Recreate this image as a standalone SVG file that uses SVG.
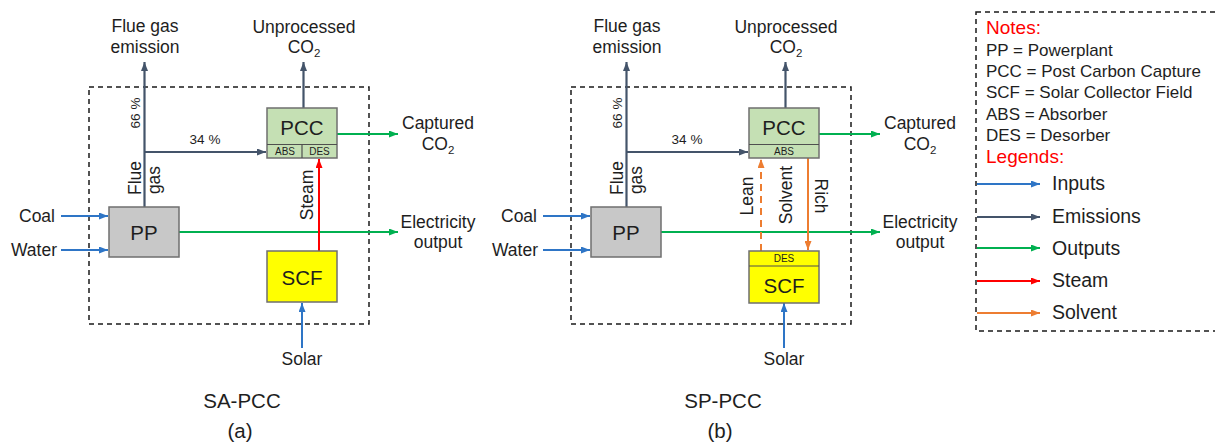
<svg xmlns="http://www.w3.org/2000/svg" width="1215" height="443" viewBox="0 0 1215 443">
<style>
text{font-family:"Liberation Sans",Arial,sans-serif;fill:#1e1e1e}
.lbl{font-size:17.5px;text-anchor:middle}
.r{text-anchor:end}
.sm{font-size:13.5px;text-anchor:middle}
.box{font-size:20.5px;text-anchor:middle}
.tiny{font-size:10px;text-anchor:middle}
.note{font-size:17px}
.hd{font-size:19px;fill:#ff0000}
.leg{font-size:19.5px}
.cap{font-size:20.5px;text-anchor:middle}
.dash{fill:none;stroke:#1a1a1a;stroke-width:1.5;stroke-dasharray:5,4}
.in{stroke:#2e75c6;stroke-width:2;fill:none;marker-end:url(#aIn)}
.emA{stroke:#44546a;stroke-width:2.2;fill:none;marker-end:url(#aEm)}
.out{stroke:#00b050;stroke-width:2;fill:none;marker-end:url(#aOut)}
.st{stroke:#ff0000;stroke-width:2;fill:none;marker-end:url(#aSt)}
.so{stroke:#ed7d31;stroke-width:2;fill:none;marker-end:url(#aSo)}
.soD{stroke:#ed7d31;stroke-width:2;fill:none;stroke-dasharray:7,5;marker-end:url(#aSo)}
.pcc{fill:#c5e0b4;stroke:#6f6f6f;stroke-width:1.5}
.pp{fill:#c8c8c8;stroke:#6f6f6f;stroke-width:1.5}
.scf{fill:#ffff00;stroke:#6f6f6f;stroke-width:1.5}
.div{stroke:#4f4f4f;stroke-width:1.2}
</style>
<defs>
<marker id="aIn" markerUnits="userSpaceOnUse" markerWidth="9" markerHeight="7" refX="9" refY="3.5" orient="auto"><path d="M0,0L9,3.5L0,7z" fill="#2e75c6"/></marker>
<marker id="aEm" markerUnits="userSpaceOnUse" markerWidth="9" markerHeight="7" refX="9" refY="3.5" orient="auto"><path d="M0,0L9,3.5L0,7z" fill="#44546a"/></marker>
<marker id="aOut" markerUnits="userSpaceOnUse" markerWidth="9" markerHeight="7" refX="9" refY="3.5" orient="auto"><path d="M0,0L9,3.5L0,7z" fill="#00b050"/></marker>
<marker id="aSt" markerUnits="userSpaceOnUse" markerWidth="9" markerHeight="7" refX="9" refY="3.5" orient="auto"><path d="M0,0L9,3.5L0,7z" fill="#ff0000"/></marker>
<marker id="aSo" markerUnits="userSpaceOnUse" markerWidth="9" markerHeight="7" refX="9" refY="3.5" orient="auto"><path d="M0,0L9,3.5L0,7z" fill="#ed7d31"/></marker>
</defs>

<!-- boundary boxes -->
<rect class="dash" x="89" y="87" width="280" height="237"/>
<rect class="dash" x="571" y="87" width="280" height="237"/>
<rect class="dash" x="976" y="12" width="245" height="319"/>

<!-- connectors -->
<g id="connectors">
  <!-- panel a -->
  <line class="emA" x1="144.5" y1="207" x2="144.5" y2="62"/>
  <line class="emA" x1="144.5" y1="152" x2="266" y2="152"/>
  <line class="emA" x1="303.5" y1="108" x2="303.5" y2="62"/>
  <line class="out" x1="337" y1="134" x2="398" y2="134"/>
  <line class="out" x1="179" y1="232" x2="398" y2="232"/>
  <line class="st" x1="319" y1="251" x2="319" y2="159"/>
  <line class="in" x1="61" y1="216" x2="108" y2="216"/>
  <line class="in" x1="61" y1="250" x2="108" y2="250"/>
  <line class="in" x1="302" y1="348" x2="302" y2="303"/>
  <!-- panel b -->
  <line class="emA" x1="626.5" y1="207" x2="626.5" y2="62"/>
  <line class="emA" x1="626.5" y1="152" x2="748" y2="152"/>
  <line class="emA" x1="785.5" y1="108" x2="785.5" y2="62"/>
  <line class="out" x1="819" y1="134" x2="880" y2="134"/>
  <line class="out" x1="661" y1="232" x2="880" y2="232"/>
  <line class="soD" x1="761" y1="251" x2="761" y2="159"/>
  <line class="so" x1="808" y1="158" x2="808" y2="250"/>
  <line class="in" x1="543" y1="216" x2="590" y2="216"/>
  <line class="in" x1="543" y1="250" x2="590" y2="250"/>
  <line class="in" x1="784" y1="348" x2="784" y2="303"/>
  <!-- legend -->
  <line class="in" x1="977" y1="184" x2="1040" y2="184"/>
  <line class="emA" x1="977" y1="217" x2="1040" y2="217"/>
  <line class="out" x1="977" y1="248" x2="1040" y2="248"/>
  <line class="st" x1="977" y1="281" x2="1040" y2="281"/>
  <line class="so" x1="977" y1="313" x2="1040" y2="313"/>
</g>

<!-- panel a nodes -->
<g id="a-pp">
  <rect class="pp" x="109" y="207" width="70" height="50"/>
  <text class="box" x="144" y="240">PP</text>
</g>
<g id="a-pcc">
  <rect class="pcc" x="267" y="108" width="70" height="50"/>
  <line class="div" x1="267" y1="144.5" x2="337" y2="144.5"/>
  <line class="div" x1="302" y1="144.5" x2="302" y2="158"/>
  <text class="box" x="302" y="135">PCC</text>
  <text class="tiny" x="285" y="155">ABS</text>
  <text class="tiny" x="319.5" y="155">DES</text>
</g>
<g id="a-scf">
  <rect class="scf" x="267" y="251" width="70" height="51"/>
  <text class="box" x="302" y="285">SCF</text>
</g>

<!-- panel b nodes -->
<g id="b-pp">
  <rect class="pp" x="591" y="207" width="70" height="50"/>
  <text class="box" x="626" y="240">PP</text>
</g>
<g id="b-pcc">
  <rect class="pcc" x="749" y="108" width="70" height="50"/>
  <line class="div" x1="749" y1="144.5" x2="819" y2="144.5"/>
  <text class="box" x="784" y="135">PCC</text>
  <text class="tiny" x="784" y="155">ABS</text>
</g>
<g id="b-scf">
  <rect class="scf" x="749" y="251" width="70" height="52"/>
  <line class="div" x1="749" y1="266" x2="819" y2="266"/>
  <text class="tiny" x="784" y="262">DES</text>
  <text class="box" x="784" y="293">SCF</text>
</g>

<!-- labels panel a -->
<g id="a-labels">
  <text class="lbl" x="145" y="32">Flue gas</text>
  <text class="lbl" x="145" y="53">emission</text>
  <text class="lbl" x="304" y="33">Unprocessed</text>
  <text class="lbl" x="304" y="53">CO<tspan font-size="11.5" dy="4">2</tspan></text>
  <text class="lbl" x="438" y="129">Captured</text>
  <text class="lbl" x="438" y="150">CO<tspan font-size="11.5" dy="4">2</tspan></text>
  <text class="lbl" x="438" y="228">Electricity</text>
  <text class="lbl" x="438" y="248">output</text>
  <text class="lbl r" x="55" y="222">Coal</text>
  <text class="lbl r" x="57" y="256">Water</text>
  <text class="lbl" x="302" y="365">Solar</text>
  <text class="sm" x="205" y="144">34 %</text>
  <text class="sm" transform="translate(140,113) rotate(-90)">66 %</text>
  <text class="lbl" transform="translate(141,178) rotate(-90)">Flue</text>
  <text class="lbl" transform="translate(160,180) rotate(-90)">gas</text>
  <text class="lbl" transform="translate(313,195) rotate(-90)">Steam</text>
  <text class="cap" x="242" y="408">SA-PCC</text>
  <text class="cap" x="240" y="438">(a)</text>
</g>

<!-- labels panel b -->
<g id="b-labels">
  <text class="lbl" x="627" y="32">Flue gas</text>
  <text class="lbl" x="627" y="53">emission</text>
  <text class="lbl" x="786" y="33">Unprocessed</text>
  <text class="lbl" x="786" y="53">CO<tspan font-size="11.5" dy="4">2</tspan></text>
  <text class="lbl" x="920" y="129">Captured</text>
  <text class="lbl" x="920" y="150">CO<tspan font-size="11.5" dy="4">2</tspan></text>
  <text class="lbl" x="920" y="228">Electricity</text>
  <text class="lbl" x="920" y="248">output</text>
  <text class="lbl r" x="537" y="222">Coal</text>
  <text class="lbl r" x="538" y="256">Water</text>
  <text class="lbl" x="784" y="365">Solar</text>
  <text class="sm" x="687" y="144">34 %</text>
  <text class="sm" transform="translate(622,113) rotate(-90)">66 %</text>
  <text class="lbl" transform="translate(623,178) rotate(-90)">Flue</text>
  <text class="lbl" transform="translate(642,180) rotate(-90)">gas</text>
  <text class="lbl" transform="translate(753,196) rotate(-90)">Lean</text>
  <text class="lbl" transform="translate(792,195) rotate(-90)">Solvent</text>
  <text class="lbl" transform="translate(815,196) rotate(90)">Rich</text>
  <text class="cap" x="723" y="408">SP-PCC</text>
  <text class="cap" x="720" y="438">(b)</text>
</g>

<!-- legend -->
<g id="legend">
  <text class="hd" x="986" y="34">Notes:</text>
  <text class="note" x="986" y="56">PP = Powerplant</text>
  <text class="note" x="986" y="77">PCC = Post Carbon Capture</text>
  <text class="note" x="986" y="98">SCF = Solar Collector Field</text>
  <text class="note" x="986" y="120">ABS = Absorber</text>
  <text class="note" x="986" y="141">DES = Desorber</text>
  <text class="hd" x="986" y="163">Legends:</text>
  <text class="leg" x="1052" y="190">Inputs</text>
  <text class="leg" x="1052" y="223">Emissions</text>
  <text class="leg" x="1052" y="255">Outputs</text>
  <text class="leg" x="1052" y="287">Steam</text>
  <text class="leg" x="1052" y="319">Solvent</text>
</g>
</svg>
